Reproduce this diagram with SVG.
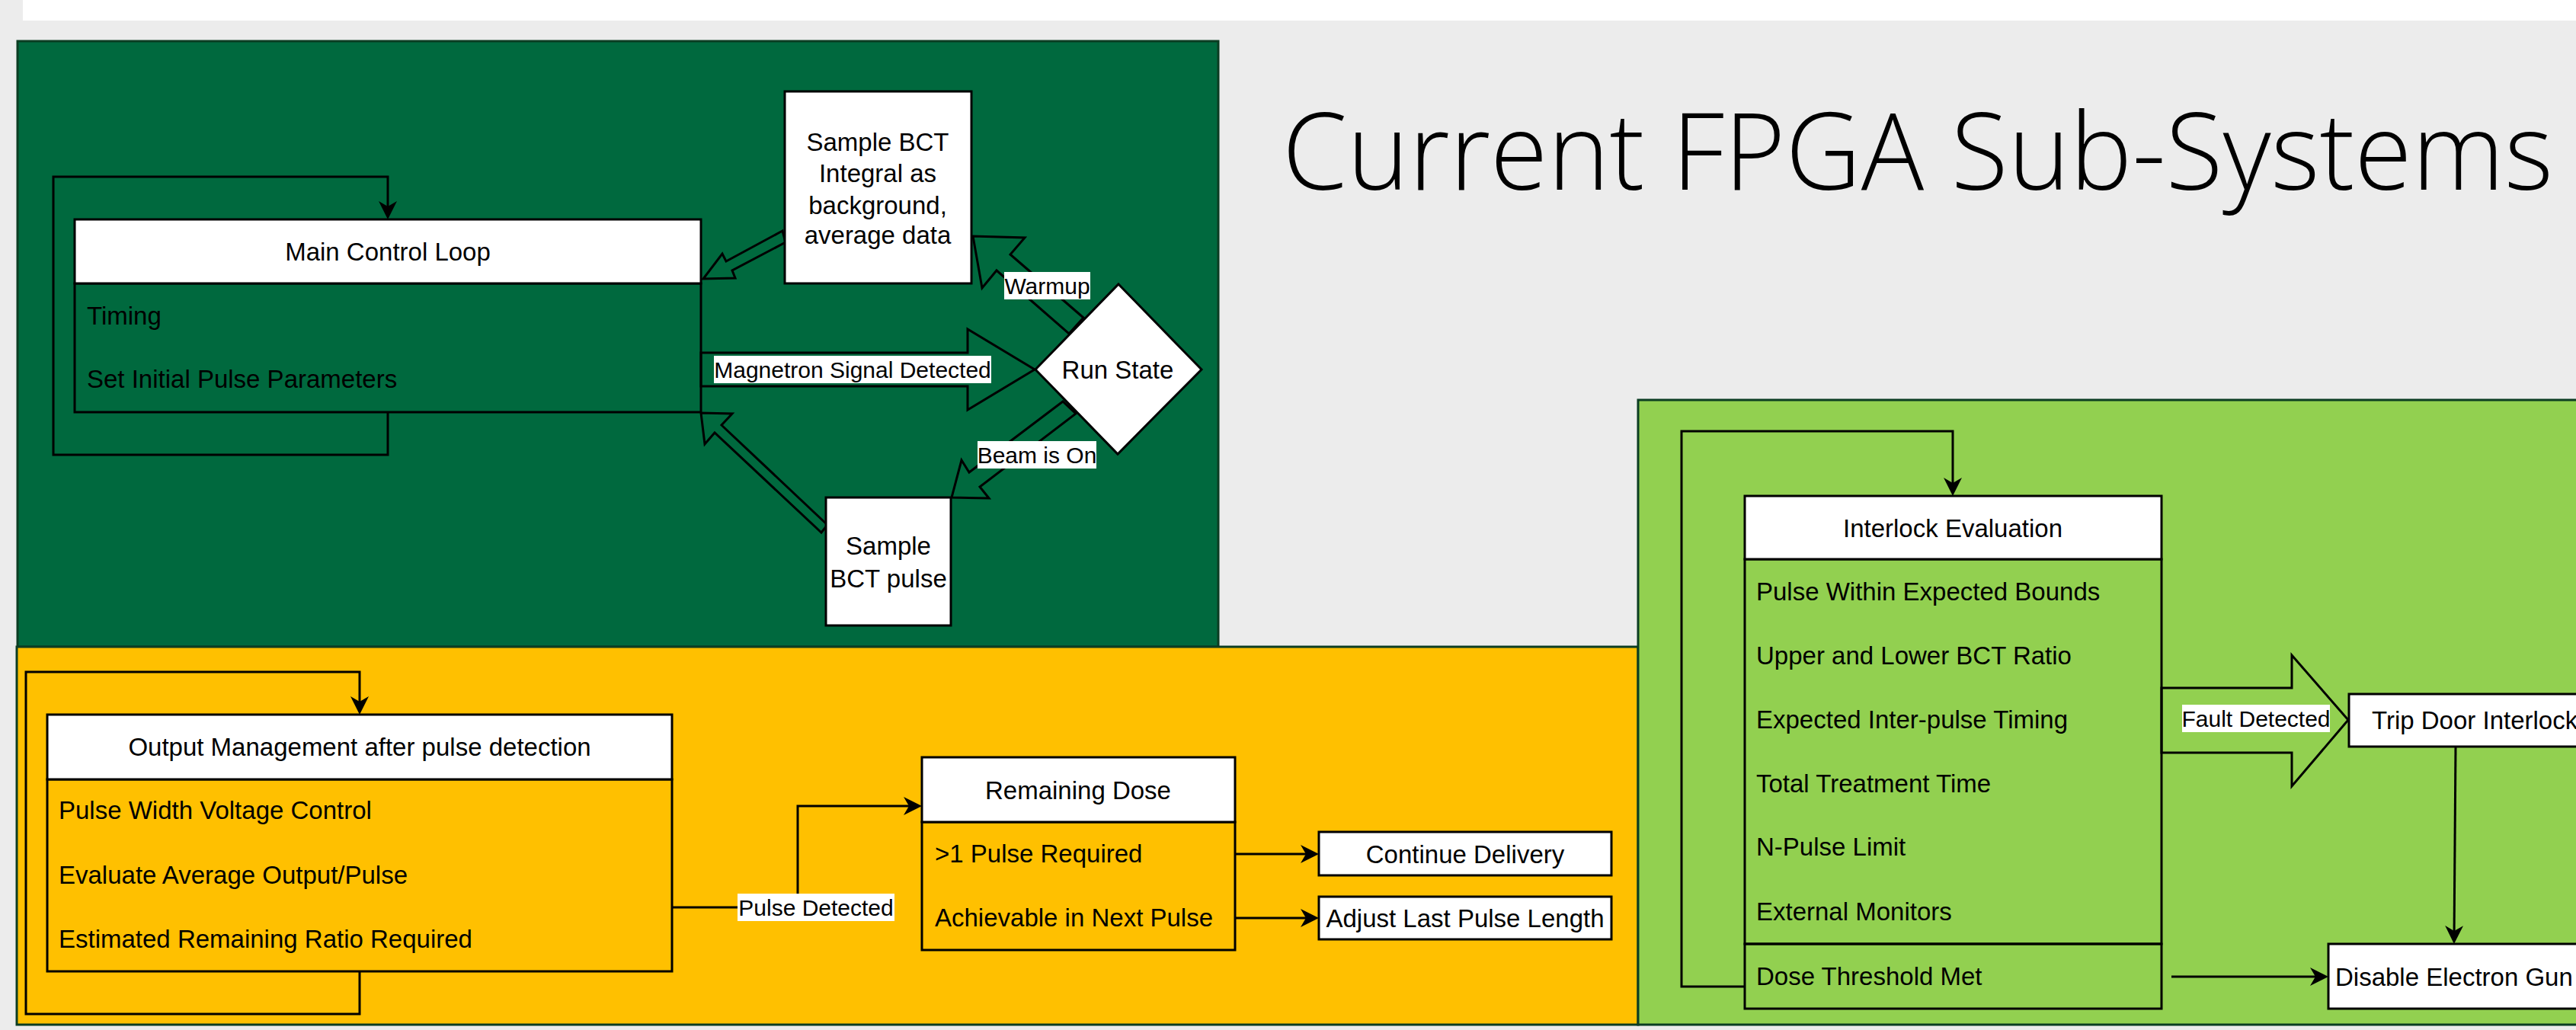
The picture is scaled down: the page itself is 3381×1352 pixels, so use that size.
<svg xmlns="http://www.w3.org/2000/svg" width="3381" height="1352" viewBox="0 0 3381 1352">
  <style>
    .t { font-family: "Liberation Sans", Arial, sans-serif; font-size: 33px; fill: #000; }
    .c { text-anchor: middle; }
    .lbl { font-size: 30px; }
    .hdr { fill: #fff; stroke: #000; stroke-width: 3; }
    .frame { fill: none; stroke: #000; stroke-width: 3; }
    .wire { fill: none; stroke: #000; stroke-width: 3; }
    .flex { fill: none; stroke: #000; stroke-width: 3; stroke-linejoin: miter; }
    .lblbg { fill: #fff; }
    .panel { stroke: #0b3d22; stroke-width: 3; }
  </style>
  <defs>
    <marker id="ah" viewBox="0 0 24 24" refX="18" refY="12" markerWidth="24" markerHeight="24" markerUnits="userSpaceOnUse" orient="auto">
      <path d="M0,0 L24,12 L0,24 L7,12 Z" fill="#000"/>
    </marker>
  </defs>

  <!-- page background -->
  <rect x="0" y="0" width="3381" height="1352" fill="#ECECEC"/>
  <rect x="30" y="0" width="3351" height="27" fill="#FFFFFF"/>

  <!-- sub-system panels -->
  <g id="panels">
    <rect class="panel" x="23" y="54" width="1576" height="795" fill="#00693E"/>
    <rect class="panel" x="22" y="849" width="2128" height="496" fill="#FFC000"/>
    <rect class="panel" x="2150" y="525" width="1240" height="820" fill="#92D050"/>
  </g>

  <text id="title" x="1683" y="249" font-family="'Open Sans', 'Noto Sans', sans-serif" font-weight="300" font-size="141" textLength="1668" lengthAdjust="spacingAndGlyphs" fill="#000">Current FPGA Sub-Systems</text>

  <!-- connectors -->
  <g id="connectors">
    <!-- main control loop self loop -->
    <path class="wire" d="M509,541 L509,597 L70,597 L70,232 L509,232 L509,282" marker-end="url(#ah)"/>
    <!-- background sample back to main loop -->
    <polygon class="flex" points="1027,303 953,343 948,333 923,366 965,365 961,355 1031,318"/>
    <!-- magnetron signal detected -->
    <polygon class="flex" points="920,463 1270,463 1270,432 1358,485 1270,538 1270,507 920,507"/>
    <rect class="lblbg" x="937" y="467" width="364" height="36"/>
    <text class="t lbl c" x="1119" y="496">Magnetron Signal Detected</text>
    <!-- warmup -->
    <polygon class="flex" points="1422,417 1326,334 1345,312 1277,310 1289,378 1308,355 1403,438"/>
    <rect class="lblbg" x="1318" y="357" width="113" height="36"/>
    <text class="t lbl c" x="1374.5" y="386">Warmup</text>
    <!-- beam is on -->
    <polygon class="flex" points="1395,527 1272,620 1262,604 1249,653 1298,654 1286,639 1412,543"/>
    <rect class="lblbg" x="1283" y="579" width="156" height="36"/>
    <text class="t lbl c" x="1361" y="608">Beam is On</text>
    <!-- pulse sample back to main loop -->
    <polygon class="flex" points="1086,689 947,558 961,543 920,542 925,583 938,568 1078,699"/>

    <!-- output management self loop -->
    <path class="wire" d="M472,1275 L472,1331 L34,1331 L34,882 L472,882 L472,932" marker-end="url(#ah)"/>
    <!-- pulse detected -->
    <path class="wire" d="M882,1191 L1047,1191 L1047,1058 L1204,1058" marker-end="url(#ah)"/>
    <rect class="lblbg" x="968" y="1173" width="206" height="36"/>
    <text class="t lbl c" x="1071" y="1202">Pulse Detected</text>
    <path class="wire" d="M1621,1121 L1725,1121" marker-end="url(#ah)"/>
    <path class="wire" d="M1621,1205 L1725,1205" marker-end="url(#ah)"/>

    <!-- interlock self loop -->
    <path class="wire" d="M2290,1295 L2207,1295 L2207,566 L2563,566 L2563,645" marker-end="url(#ah)"/>
    <!-- fault detected -->
    <polygon class="flex" points="2837,903 3008,903 3008,860 3082,945 3008,1032 3008,988 2837,988"/>
    <rect class="lblbg" x="2864" y="925" width="194" height="36"/>
    <text class="t lbl c" x="2961" y="954">Fault Detected</text>
    <path class="wire" d="M3223,980 L3221,1233" marker-end="url(#ah)"/>
    <path class="wire" d="M2850,1282 L3050,1282" marker-end="url(#ah)"/>
  </g>

  <!-- nodes -->
  <g id="main-control-loop">
    <rect class="frame" x="98" y="372" width="822" height="169"/>
    <rect class="hdr" x="98" y="288" width="822" height="84"/>
    <text class="t c" x="509" y="342">Main Control Loop</text>
    <text class="t" x="114" y="426">Timing</text>
    <text class="t" x="114" y="509">Set Initial Pulse Parameters</text>
  </g>

  <g id="sample-bct-integral">
    <rect class="hdr" x="1030" y="120" width="245" height="252"/>
    <text class="t c" x="1152" y="198">Sample BCT</text>
    <text class="t c" x="1152" y="239">Integral as</text>
    <text class="t c" x="1152" y="281">background,</text>
    <text class="t c" x="1152" y="320">average data</text>
  </g>

  <g id="run-state">
    <polygon class="hdr" points="1468,373 1577,485 1467,596 1359,485"/>
    <text class="t c" x="1467" y="497">Run State</text>
  </g>

  <g id="sample-bct-pulse">
    <rect class="hdr" x="1084" y="653" width="164" height="168"/>
    <text class="t c" x="1166" y="728">Sample</text>
    <text class="t c" x="1166" y="771">BCT pulse</text>
  </g>

  <g id="output-management">
    <rect class="frame" x="62" y="1023" width="820" height="252"/>
    <rect class="hdr" x="62" y="938" width="820" height="85"/>
    <text class="t c" x="472" y="992">Output Management after pulse detection</text>
    <text class="t" x="77" y="1075">Pulse Width Voltage Control</text>
    <text class="t" x="77" y="1160">Evaluate Average Output/Pulse</text>
    <text class="t" x="77" y="1244">Estimated Remaining Ratio Required</text>
  </g>

  <g id="remaining-dose">
    <rect class="frame" x="1210" y="1079" width="411" height="168"/>
    <rect class="hdr" x="1210" y="994" width="411" height="85"/>
    <text class="t c" x="1415" y="1049">Remaining Dose</text>
    <text class="t" x="1227" y="1132">&gt;1 Pulse Required</text>
    <text class="t" x="1227" y="1216">Achievable in Next Pulse</text>
  </g>

  <g id="continue-delivery">
    <rect class="hdr" x="1731" y="1092" width="384" height="57"/>
    <text class="t c" x="1923" y="1133">Continue Delivery</text>
  </g>

  <g id="adjust-last-pulse">
    <rect class="hdr" x="1731" y="1177" width="384" height="56"/>
    <text class="t c" x="1923" y="1217">Adjust Last Pulse Length</text>
  </g>

  <g id="interlock-evaluation">
    <rect class="frame" x="2290" y="734" width="547" height="505"/>
    <rect class="frame" x="2290" y="1239" width="547" height="85"/>
    <rect class="hdr" x="2290" y="651" width="547" height="83"/>
    <text class="t c" x="2563" y="705">Interlock Evaluation</text>
    <text class="t" x="2305" y="788">Pulse Within Expected Bounds</text>
    <text class="t" x="2305" y="872">Upper and Lower BCT Ratio</text>
    <text class="t" x="2305" y="956">Expected Inter-pulse Timing</text>
    <text class="t" x="2305" y="1040">Total Treatment Time</text>
    <text class="t" x="2305" y="1123">N-Pulse Limit</text>
    <text class="t" x="2305" y="1208">External Monitors</text>
    <text class="t" x="2305" y="1293">Dose Threshold Met</text>
  </g>

  <g id="trip-door-interlock">
    <rect class="hdr" x="3083" y="911" width="340" height="69"/>
    <text class="t" x="3113" y="957">Trip Door Interlock</text>
  </g>

  <g id="disable-electron-gun">
    <rect class="hdr" x="3056" y="1239" width="360" height="85"/>
    <text class="t" x="3065" y="1294">Disable Electron Gun</text>
  </g>
</svg>
